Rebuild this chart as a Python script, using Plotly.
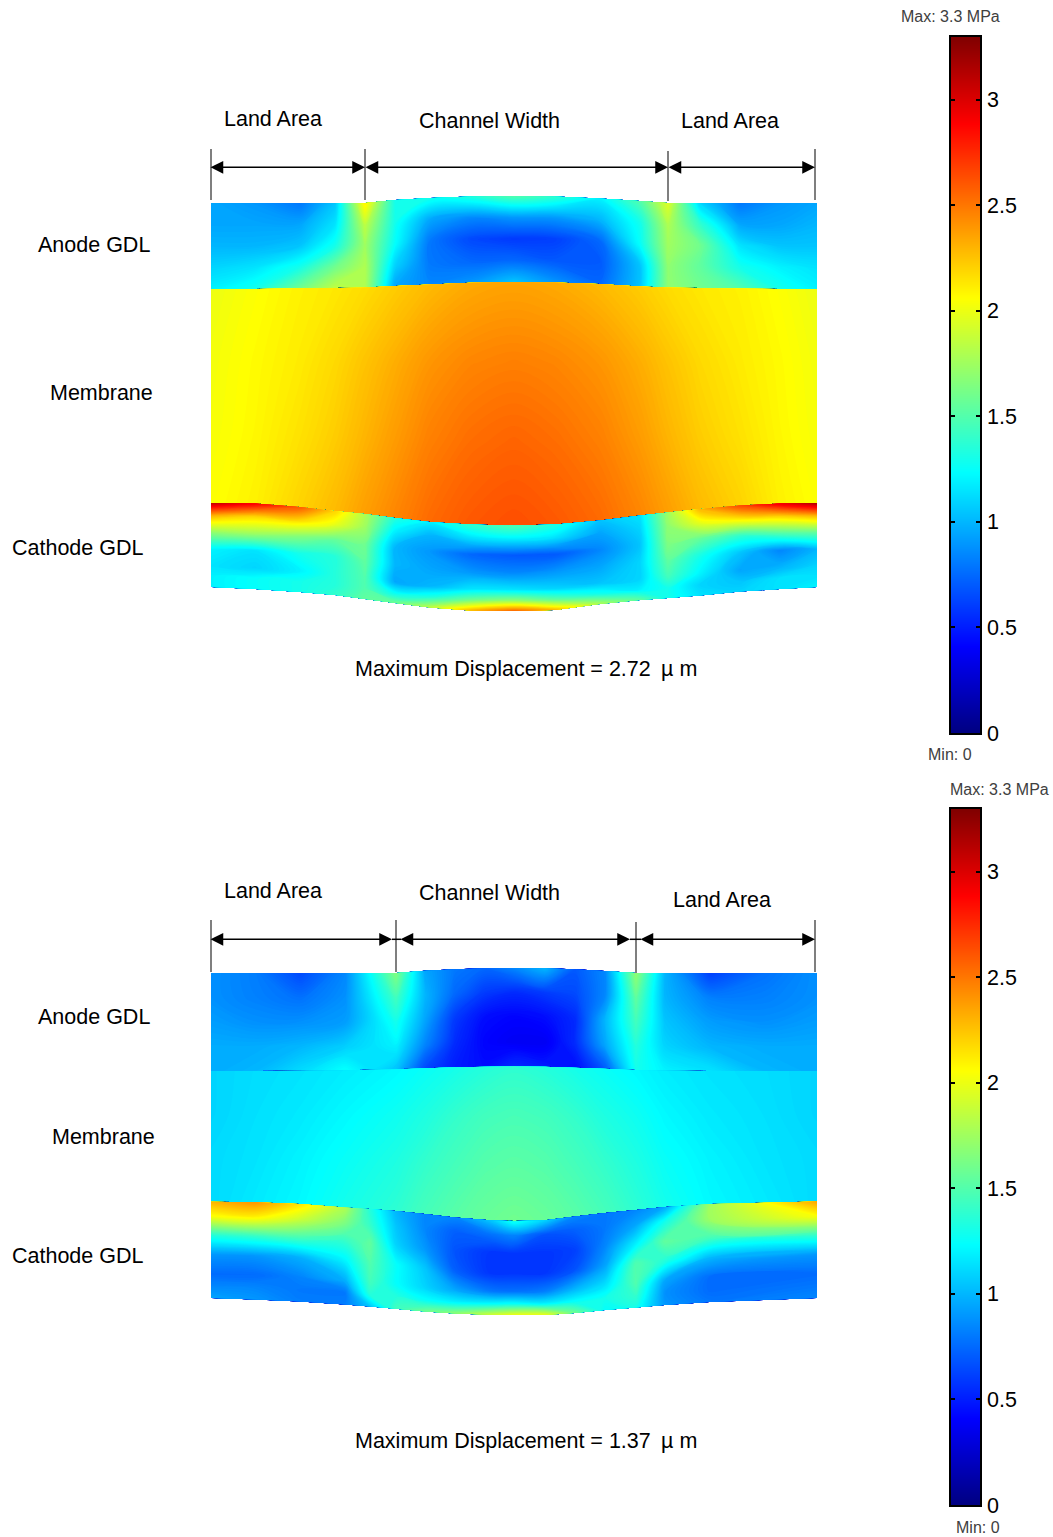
import plotly.graph_objects as go

# ---------- shared ----------
PAGE_W, PAGE_H = 1053, 1537
VMAX = 3.3
tick_values = [0, 0.5, 1, 1.5, 2, 2.5, 3]
tick_labels = ["0", "0.5", "1", "1.5", "2", "2.5", "3"]
jet = [[0, "#000080"], [0.125, "#0000ff"], [0.375, "#00ffff"], [0.625, "#ffff00"], [0.875, "#ff0000"], [1, "#800000"]]

anode_rows = [0, 0.25, 0.5, 0.75, 1]
membrane_rows = [0, 0.33, 0.66, 1]
cathode_rows = [0, 0.15, 0.35, 0.55, 0.75, 0.88, 1]

# ---------- upper panel: stations and layer boundaries ----------
p1_x = [211, 255, 300, 335, 365, 395, 430, 470, 514, 555, 600, 640, 668, 700, 740, 780, 817]
p1_top = [203, 203, 203, 203, 203, 200, 198, 196.5, 196, 196.5, 198.5, 201, 203, 203, 203, 203, 203]
p1_anode_membrane = [289, 289, 288, 288, 287.5, 286, 284.5, 282.7, 282, 282.5, 284, 286.5, 287.5, 288, 288.5, 289, 289]
p1_membrane_cathode = [503, 503.5, 507, 511, 514, 518, 522, 524.5, 525.5, 524.5, 520.5, 515.5, 512.5, 509, 505.5, 503.5, 503]
p1_bottom = [587, 589, 592, 595, 599, 603, 607.5, 610.5, 611, 610, 604, 600, 598, 595.5, 591.5, 589, 587]

p1_anode = [
    [0.95, 0.9, 0.8, 1.05, 2.1, 1.3, 1.3, 1.35, 1.5, 1.4, 1.2, 1.5, 1.95, 1.1, 0.8, 0.9, 0.95],
    [0.95, 0.95, 0.95, 1.15, 1.85, 1.3, 0.95, 0.85, 0.9, 0.9, 1.0, 1.3, 1.8, 1.4, 0.95, 0.95, 1.0],
    [1.0, 1.0, 1.05, 1.3, 1.75, 1.25, 0.8, 0.65, 0.6, 0.62, 0.75, 1.25, 1.75, 1.6, 1.15, 1.05, 1.05],
    [1.1, 1.15, 1.3, 1.6, 1.8, 1.1, 0.8, 0.75, 0.75, 0.7, 0.7, 1.05, 1.7, 1.55, 1.3, 1.2, 1.15],
    [1.2, 1.3, 1.6, 1.85, 1.8, 0.95, 0.85, 0.9, 1.05, 0.9, 0.75, 1.05, 1.7, 1.6, 1.5, 1.3, 1.2],
]
p1_membrane = [
    [2.0, 2.05, 2.1, 2.13, 2.17, 2.22, 2.28, 2.33, 2.35, 2.33, 2.28, 2.22, 2.17, 2.13, 2.1, 2.05, 2.0],
    [2.02, 2.07, 2.12, 2.18, 2.25, 2.32, 2.4, 2.45, 2.47, 2.45, 2.4, 2.32, 2.25, 2.18, 2.12, 2.07, 2.02],
    [2.03, 2.08, 2.15, 2.22, 2.3, 2.38, 2.47, 2.53, 2.56, 2.53, 2.47, 2.38, 2.3, 2.22, 2.15, 2.08, 2.03],
    [2.05, 2.1, 2.2, 2.28, 2.37, 2.45, 2.54, 2.6, 2.63, 2.6, 2.54, 2.45, 2.37, 2.28, 2.2, 2.1, 2.05],
]
p1_cathode = [
    [3.1, 2.9, 2.6, 2.2, 1.8, 1.35, 1.2, 1.4, 1.5, 1.35, 1.05, 1.15, 1.75, 2.3, 2.65, 2.95, 3.15],
    [2.3, 2.2, 2.2, 2.0, 1.75, 1.2, 1.0, 1.15, 1.2, 1.15, 0.95, 1.1, 1.7, 2.0, 2.15, 2.2, 2.3],
    [1.7, 1.75, 1.65, 1.55, 1.6, 1.0, 0.9, 0.75, 0.7, 0.7, 0.85, 1.05, 1.65, 1.55, 1.4, 1.5, 1.55],
    [1.2, 1.15, 1.3, 1.35, 1.55, 1.0, 0.95, 0.9, 0.85, 0.9, 0.95, 1.1, 1.55, 1.3, 1.05, 0.85, 1.0],
    [1.15, 1.1, 1.2, 1.35, 1.5, 0.95, 1.0, 1.15, 1.15, 1.1, 1.05, 1.1, 1.45, 1.2, 0.95, 1.0, 1.1],
    [1.2, 1.25, 1.3, 1.35, 1.5, 1.25, 1.35, 1.6, 1.7, 1.55, 1.3, 1.2, 1.3, 1.1, 1.05, 1.15, 1.15],
    [1.2, 1.25, 1.3, 1.4, 1.55, 1.6, 1.85, 2.3, 2.55, 2.3, 1.8, 1.55, 1.3, 1.15, 1.1, 1.15, 1.2],
]

# ---------- lower panel ----------
p2_x = [211, 255, 300, 345, 396, 425, 455, 485, 514, 545, 575, 605, 636, 665, 710, 765, 817]
p2_top = [973, 973, 973, 973, 973, 970.8, 969.2, 968.3, 968, 968.3, 969.3, 971, 973, 973, 973, 973, 973]
p2_anode_membrane = [1071, 1071, 1070.7, 1070.3, 1069.3, 1068.2, 1067.3, 1066.7, 1066.5, 1066.7, 1067.7, 1068.7, 1070, 1070.5, 1071, 1071, 1071]
p2_membrane_cathode = [1201.7, 1202.3, 1204, 1207.5, 1211, 1214, 1217.5, 1220, 1221, 1220.3, 1216.5, 1213, 1210, 1207, 1204, 1202.3, 1201.5]

p2c_x = [211, 255, 300, 345, 370, 396, 425, 455, 490, 514, 545, 575, 605, 636, 665, 710, 817]
p2c_top = [1201.7, 1202.3, 1204, 1207.5, 1209, 1211, 1214, 1217.5, 1220.3, 1221, 1220.3, 1216.5, 1213, 1210, 1207, 1204, 1201.5]
p2c_bottom = [1298, 1299.5, 1301.5, 1304.5, 1306.5, 1308.7, 1311.5, 1313.5, 1314.8, 1315, 1315, 1313, 1310, 1307.5, 1305, 1302, 1298]

p2_anode = [
    [0.88, 0.82, 0.65, 0.85, 1.65, 0.95, 0.8, 0.75, 0.85, 1.0, 0.7, 0.85, 1.7, 1.0, 0.62, 0.78, 0.88],
    [0.88, 0.83, 0.78, 0.88, 1.45, 1.0, 0.75, 0.6, 0.55, 0.6, 0.65, 0.85, 1.55, 1.0, 0.83, 0.83, 0.88],
    [0.92, 0.88, 0.88, 0.92, 1.3, 0.95, 0.6, 0.45, 0.42, 0.45, 0.55, 1.0, 1.45, 1.05, 0.92, 0.88, 0.92],
    [0.97, 0.97, 1.0, 1.08, 1.2, 0.85, 0.55, 0.42, 0.38, 0.38, 0.55, 0.95, 1.35, 1.1, 1.0, 0.97, 0.97],
    [0.97, 1.0, 1.12, 1.25, 1.05, 0.65, 0.5, 0.45, 0.55, 0.5, 0.45, 0.7, 1.3, 1.2, 1.15, 1.0, 0.97],
]
p2_membrane = [
    [1.1, 1.13, 1.15, 1.18, 1.22, 1.26, 1.3, 1.35, 1.38, 1.35, 1.3, 1.26, 1.22, 1.18, 1.15, 1.13, 1.1],
    [1.1, 1.14, 1.17, 1.22, 1.28, 1.33, 1.4, 1.45, 1.47, 1.45, 1.4, 1.33, 1.28, 1.22, 1.17, 1.14, 1.1],
    [1.12, 1.15, 1.2, 1.26, 1.33, 1.4, 1.46, 1.51, 1.53, 1.51, 1.46, 1.4, 1.33, 1.26, 1.2, 1.15, 1.12],
    [1.12, 1.17, 1.22, 1.3, 1.38, 1.46, 1.52, 1.57, 1.6, 1.57, 1.52, 1.46, 1.38, 1.3, 1.22, 1.17, 1.12],
]
p2_cathode = [
    [2.3, 2.4, 2.15, 1.8, 1.35, 1.0, 0.85, 0.85, 1.05, 1.3, 1.1, 0.85, 0.8, 0.85, 0.95, 1.75, 2.35],
    [2.05, 2.1, 1.9, 1.65, 1.4, 1.05, 0.85, 0.72, 0.78, 0.85, 0.68, 0.72, 0.8, 0.95, 1.3, 1.75, 2.05],
    [1.35, 1.4, 1.45, 1.4, 1.55, 1.1, 0.9, 0.68, 0.58, 0.58, 0.58, 0.62, 0.85, 1.2, 1.55, 1.45, 1.4],
    [0.9, 0.9, 0.98, 1.2, 1.5, 1.25, 1.05, 0.72, 0.58, 0.58, 0.58, 0.68, 0.95, 1.5, 1.35, 1.0, 0.9],
    [0.76, 0.76, 0.84, 0.98, 1.45, 1.25, 1.1, 0.95, 0.8, 0.78, 0.82, 1.0, 1.15, 1.5, 0.95, 0.76, 0.76],
    [0.85, 0.85, 0.8, 0.8, 1.35, 1.35, 1.25, 1.2, 1.22, 1.25, 1.2, 1.25, 1.3, 1.4, 0.88, 0.76, 0.8],
    [0.95, 0.9, 0.82, 0.82, 1.05, 1.45, 1.6, 1.7, 1.9, 2.0, 2.0, 1.6, 1.25, 1.3, 0.9, 0.8, 0.85],
]

# ---------- text: (text, left x, middle y) ----------
labels = [
    ("Land Area", 222, 119), ("Channel Width", 417, 121), ("Land Area", 679, 121),
    ("Anode GDL", 36, 245), ("Membrane", 48, 393), ("Cathode GDL", 10, 548),
    ("Maximum Displacement = 2.72 \u2009µ m", 353, 669),
    ("Land Area", 222, 891), ("Channel Width", 417, 893), ("Land Area", 671, 900),
    ("Anode GDL", 36, 1017), ("Membrane", 50, 1137), ("Cathode GDL", 10, 1256),
    ("Maximum Displacement = 1.37 \u2009µ m", 353, 1441),
]
scale_notes = [("Max: 3.3 MPa", 899, 16), ("Min: 0", 926, 754), ("Max: 3.3 MPa", 948, 789), ("Min: 0", 954, 1527)]

# dimension arrows: (x from, x to, y)
arrows = [(209, 365, 167.3), (364, 668, 167.3), (667, 815, 167.3),
          (209, 392, 939.3), (399, 630, 939.3), (639, 815, 939.3)]
# plain connecting segments between arrow tips: (x from, x to, y)
connectors = [(392, 401, 939.3), (630, 641, 939.3)]
# extension ticks: (x, y from, y to)
extensions = [(211, 149, 200), (365, 149, 200), (668, 151, 201), (815, 149, 200),
              (211, 920, 972), (396, 920, 972), (636, 922, 973), (815, 920, 972)]

fig = go.Figure()
counter = 0


def add_layer(xs, upper, lower, rows, values):
    global counter
    counter += 1
    cid = f"layer{counter}"
    grid_x = [list(xs) for _ in rows]
    grid_y = [[u + (l - u) * r for u, l in zip(upper, lower)] for r in rows]
    a = list(range(len(xs)))
    axis = dict(showgrid=False, showline=False, startline=False, endline=False,
                showticklabels="none", minorgridcount=0, smoothing=0, type="linear")
    fig.add_trace(go.Carpet(carpet=cid, a=a, b=rows, x=grid_x, y=grid_y, aaxis=axis, baxis=axis,
                            xaxis="x", yaxis="y"))
    fig.add_trace(go.Contourcarpet(carpet=cid, a=a, b=rows, z=values, colorscale=jet, zmin=0, zmax=VMAX,
                                   autocontour=False, showscale=False, line=dict(width=0),
                                   contours=dict(start=0.0037, end=VMAX, size=0.0125, coloring="fill", showlines=False)))


add_layer(p1_x, p1_top, p1_anode_membrane, anode_rows, p1_anode)
add_layer(p1_x, p1_anode_membrane, p1_membrane_cathode, membrane_rows, p1_membrane)
add_layer(p1_x, p1_membrane_cathode, p1_bottom, cathode_rows, p1_cathode)
add_layer(p2_x, p2_top, p2_anode_membrane, anode_rows, p2_anode)
add_layer(p2_x, p2_anode_membrane, p2_membrane_cathode, membrane_rows, p2_membrane)
add_layer(p2c_x, p2c_top, p2c_bottom, cathode_rows, p2_cathode)

# colour bars
for xa, ya in (("x2", "y2"), ("x3", "y3")):
    fig.add_trace(go.Heatmap(x=[0, 1], y=[0, VMAX], z=[[0, 0], [VMAX, VMAX]], colorscale=jet, zmin=0, zmax=VMAX,
                             zsmooth="best", showscale=False, xaxis=xa, yaxis=ya, hoverinfo="skip"))

shapes = [dict(type="line", x0=x, x1=x, y0=y0, y1=y1, xref="x", yref="y", line=dict(color="#555555", width=1.5))
          for x, y0, y1 in extensions]
shapes += [dict(type="line", x0=x0, x1=x1, y0=y, y1=y, xref="x", yref="y", line=dict(color="#000000", width=1.5))
           for x0, x1, y in connectors]
annotations = []
for x0, x1, y in arrows:
    annotations.append(dict(x=x1, y=y, ax=x0, ay=y, xref="x", yref="y", axref="x", ayref="y", text="",
                            showarrow=True, arrowhead=2, arrowside="end+start", arrowsize=1.7,
                            arrowwidth=1.5, arrowcolor="#000000"))
for text, x, y in labels:
    annotations.append(dict(x=x, y=y, xref="x", yref="y", text=text, showarrow=False, xanchor="left",
                            yanchor="middle", font=dict(family="Liberation Sans, Arial", size=21.5, color="#000000")))
for text, x, y in scale_notes:
    annotations.append(dict(x=x, y=y, xref="x", yref="y", text=text, showarrow=False, xanchor="left",
                            yanchor="middle", font=dict(family="Liberation Sans, Arial", size=16, color="#404040")))


def scale_axis(top, bottom):
    return dict(domain=[1 - bottom / PAGE_H, 1 - top / PAGE_H], range=[0, VMAX], side="right",
                tickmode="array", tickvals=tick_values, ticktext=tick_labels, ticks="inside", ticklen=4,
                tickwidth=1.5, tickcolor="#000000", showline=True, linecolor="#000000", linewidth=1.5,
                mirror="ticks", showgrid=False, zeroline=False, ticklabelstandoff=1,
                tickfont=dict(family="Liberation Sans, Arial", size=21.5, color="#000000"))


bar_x = dict(domain=[951 / PAGE_W, 980 / PAGE_W], range=[0, 1], showticklabels=False, ticks="", showgrid=False,
             zeroline=False, showline=True, linecolor="#000000", linewidth=1.5, mirror=True)

fig.update_layout(
    width=PAGE_W, height=PAGE_H, margin=dict(l=0, r=0, t=0, b=0, autoexpand=False), paper_bgcolor="white",
    plot_bgcolor="white", showlegend=False,
    xaxis=dict(domain=[0, 1], range=[0, PAGE_W], visible=False, fixedrange=True),
    yaxis=dict(domain=[0, 1], range=[PAGE_H, 0], visible=False, fixedrange=True),
    xaxis2=dict(bar_x, anchor="y2"), yaxis2=dict(scale_axis(36.5, 733), anchor="x2"),
    xaxis3=dict(bar_x, anchor="y3"), yaxis3=dict(scale_axis(808.5, 1505), anchor="x3"),
    shapes=shapes, annotations=annotations,
)

fig.write_html("out.html", config={"displayModeBar": False},
               post_script="document.body.style.margin='0';document.documentElement.style.overflow='hidden';")
